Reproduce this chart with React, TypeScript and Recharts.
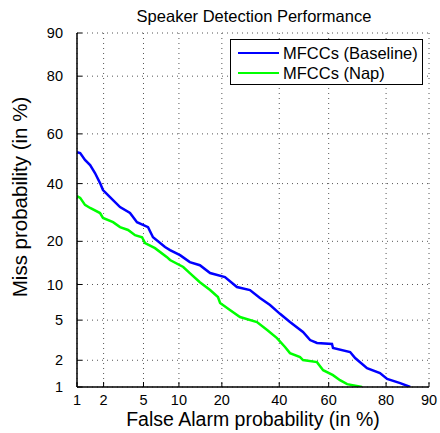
import { CartesianGrid, Legend, Line, LineChart, XAxis, YAxis } from "recharts";

// DET plot: both axes on a normal-deviate (probit) scale, values in percent
const TICKS = [1, 2, 5, 10, 20, 40, 60, 80, 90];

const BASELINE_FA = [
  1.0, 1.09, 1.24, 1.42, 1.61, 1.83, 1.97, 2.34, 2.97, 3.73, 4.35, 5.5, 6.09,
  7.72, 8.49, 10.2, 12.1, 14.3, 16.8, 20.9, 24.6, 29.0, 32.6, 36.4, 40.3, 44.3,
  49.6, 52.5, 55.3, 61.3, 61.7, 68.2, 70.0, 74.1, 78.2, 80.3, 83.8, 86.2,
];
const BASELINE_MISS = [
  52.7, 52.3, 49.5, 47.4, 44.2, 40.2, 37.5, 34.8, 31.1, 29.0, 25.9, 24.3, 21.2,
  18.4, 17.6, 16.3, 14.6, 13.9, 12.2, 11.4, 9.55, 9.04, 7.78, 6.8, 5.7, 4.8,
  3.87, 3.23, 3.02, 2.95, 2.69, 2.44, 2.11, 1.64, 1.45, 1.24, 1.11, 1.0,
];

const NAP_FA = [
  1.0, 1.09, 1.24, 1.42, 1.83, 1.97, 2.52, 2.97, 3.57, 4.17, 4.85, 5.17, 6.34,
  8.02, 8.49, 10.8, 12.1, 14.3, 16.8, 18.9, 19.5, 22.4, 25.6, 31.5, 35.3, 39.1,
  42.3, 44.3, 48.4, 49.6, 55.3, 57.8, 61.7, 64.4, 67.1, 72.4,
];
const NAP_MISS = [
  35.2, 34.5, 31.9, 30.8, 29.0, 27.3, 25.9, 24.3, 23.4, 21.8, 21.2, 19.5, 18.1,
  15.8, 15.1, 13.5, 12.2, 10.4, 9.04, 7.93, 7.07, 6.15, 5.33, 4.8, 4.04, 3.38,
  2.75, 2.38, 2.16, 2.01, 1.91, 1.56, 1.37, 1.2, 1.08, 1.0,
];

const FONT = '"Liberation Sans", Arial, Helvetica, sans-serif';

// inverse normal CDF (Acklam), input in percent
function probit(pct: number) {
  const p = pct / 100;
  const a = [-39.69683028665376, 220.9460984245205, -275.9285104469687, 138.357751867269, -30.66479806614716, 2.506628277459239];
  const b = [-54.47609879822406, 161.5858368580409, -155.6989798598866, 66.80131188771972, -13.28068155288572];
  const c = [-0.007784894002430293, -0.3223964580411365, -2.400758277161838, -2.549732539343734, 4.374664141464968, 2.938163982698783];
  const d = [0.007784695709041462, 0.3224671290700398, 2.445134137142996, 3.754408661907416];
  const plow = 0.02425;
  if (p < plow) {
    const q = Math.sqrt(-2 * Math.log(p));
    return (((((c[0] * q + c[1]) * q + c[2]) * q + c[3]) * q + c[4]) * q + c[5]) /
      ((((d[0] * q + d[1]) * q + d[2]) * q + d[3]) * q + 1);
  }
  if (p <= 1 - plow) {
    const q = p - 0.5;
    const r = q * q;
    return ((((((a[0] * r + a[1]) * r + a[2]) * r + a[3]) * r + a[4]) * r + a[5]) * q) /
      (((((b[0] * r + b[1]) * r + b[2]) * r + b[3]) * r + b[4]) * r + 1);
  }
  const q = Math.sqrt(-2 * Math.log(1 - p));
  return -(((((c[0] * q + c[1]) * q + c[2]) * q + c[3]) * q + c[4]) * q + c[5]) /
    ((((d[0] * q + d[1]) * q + d[2]) * q + d[3]) * q + 1);
}

const toPoints = (fa: number[], miss: number[]) =>
  fa.map((f, i) => ({ x: probit(f), y: probit(miss[i]) }));

const baselineData = toPoints(BASELINE_FA, BASELINE_MISS);
const napData = toPoints(NAP_FA, NAP_MISS);

const tickPos = TICKS.map(probit);
const domain: [number, number] = [probit(1), probit(90)];

const tickLabel = (v: number) => {
  let best = 0;
  tickPos.forEach((t, i) => {
    if (Math.abs(t - v) < Math.abs(tickPos[best] - v)) best = i;
  });
  return String(TICKS[best]);
};

const tickStyle = { fill: "#000", fontSize: 14.5, fontFamily: FONT };
const axisLine = { stroke: "#000", strokeWidth: 1.5 };

function DetLegend({ payload }: any) {
  return (
    <div
      style={{
        width: 191,
        height: 44,
        border: "1px solid #000",
        background: "#fff",
        fontFamily: FONT,
        fontSize: 16.5,
        color: "#000",
        boxSizing: "content-box",
      }}
    >
      <div style={{ height: 3 }} />
      {(payload ?? []).map((p: any) => (
        <div
          key={p.value}
          style={{ display: "flex", alignItems: "center", height: 20, paddingLeft: 7 }}
        >
          <span
            style={{ width: 41, height: 2.5, background: p.color, marginRight: 4 }}
          />
          <span style={{ lineHeight: "20px", whiteSpace: "nowrap" }}>{p.value}</span>
        </div>
      ))}
    </div>
  );
}

export default function App() {
  return (
    <div
      style={{
        position: "absolute",
        left: 0,
        top: 0,
        width: 440,
        height: 433,
        background: "#fff",
        fontFamily: FONT,
      }}
    >
      <div
        style={{
          position: "absolute",
          left: 0,
          width: 508,
          top: 8,
          fontSize: 16.5,
          lineHeight: "16.5px",
          textAlign: "center",
          color: "#000",
        }}
      >
        Speaker Detection Performance
      </div>
      <LineChart
        width={440}
        height={433}
        margin={{ top: 33, right: 11, bottom: 0, left: 0 }}
      >
        <CartesianGrid stroke="#555" strokeDasharray="1 4" />
        <XAxis
          type="number"
          dataKey="x"
          domain={domain}
          ticks={tickPos}
          tickFormatter={tickLabel}
          allowDataOverflow
          height={46}
          tickSize={-5}
          tickMargin={13}
          tick={tickStyle}
          axisLine={axisLine}
          tickLine={{ stroke: "#000" }}
        />
        <XAxis
          xAxisId="top"
          orientation="top"
          type="number"
          domain={domain}
          ticks={tickPos}
          tickFormatter={() => ""}
          allowDataOverflow
          height={0}
          tickSize={-5}
          axisLine={axisLine}
          tickLine={{ stroke: "#000" }}
        />
        <YAxis
          type="number"
          dataKey="y"
          domain={domain}
          ticks={tickPos}
          tickFormatter={tickLabel}
          allowDataOverflow
          width={77}
          tickSize={-5}
          tickMargin={19}
          tick={tickStyle}
          axisLine={axisLine}
          tickLine={{ stroke: "#000" }}
        />
        <YAxis
          yAxisId="right"
          orientation="right"
          type="number"
          domain={domain}
          ticks={tickPos}
          tickFormatter={() => ""}
          allowDataOverflow
          width={0}
          tickSize={-5}
          axisLine={axisLine}
          tickLine={{ stroke: "#000" }}
        />
        <Line
          name="MFCCs (Baseline)"
          data={baselineData}
          dataKey="y"
          type="linear"
          stroke="#0000ff"
          strokeWidth={2.5}
          dot={false}
          isAnimationActive={false}
        />
        <Line
          name="MFCCs (Nap)"
          data={napData}
          dataKey="y"
          type="linear"
          stroke="#00ff00"
          strokeWidth={2.5}
          dot={false}
          isAnimationActive={false}
        />
        <Legend
          layout="horizontal"
          verticalAlign="middle"
          align="center"
          content={DetLegend}
          wrapperStyle={{ left: 230, top: 39, width: 193, height: 46 }}
        />
      </LineChart>
      <div
        style={{
          position: "absolute",
          left: 53,
          width: 400,
          top: 410,
          fontSize: 19.5,
          lineHeight: "19.5px",
          textAlign: "center",
          color: "#000",
        }}
      >
        False Alarm probability (in %)
      </div>
      <div
        style={{
          position: "absolute",
          left: 20 - 130,
          width: 260,
          top: 197 - 10,
          height: 20,
          fontSize: 20.5,
          lineHeight: "20px",
          textAlign: "center",
          color: "#000",
          transform: "rotate(-90deg)",
          whiteSpace: "nowrap",
        }}
      >
        Miss probability (in %)
      </div>
    </div>
  );
}
